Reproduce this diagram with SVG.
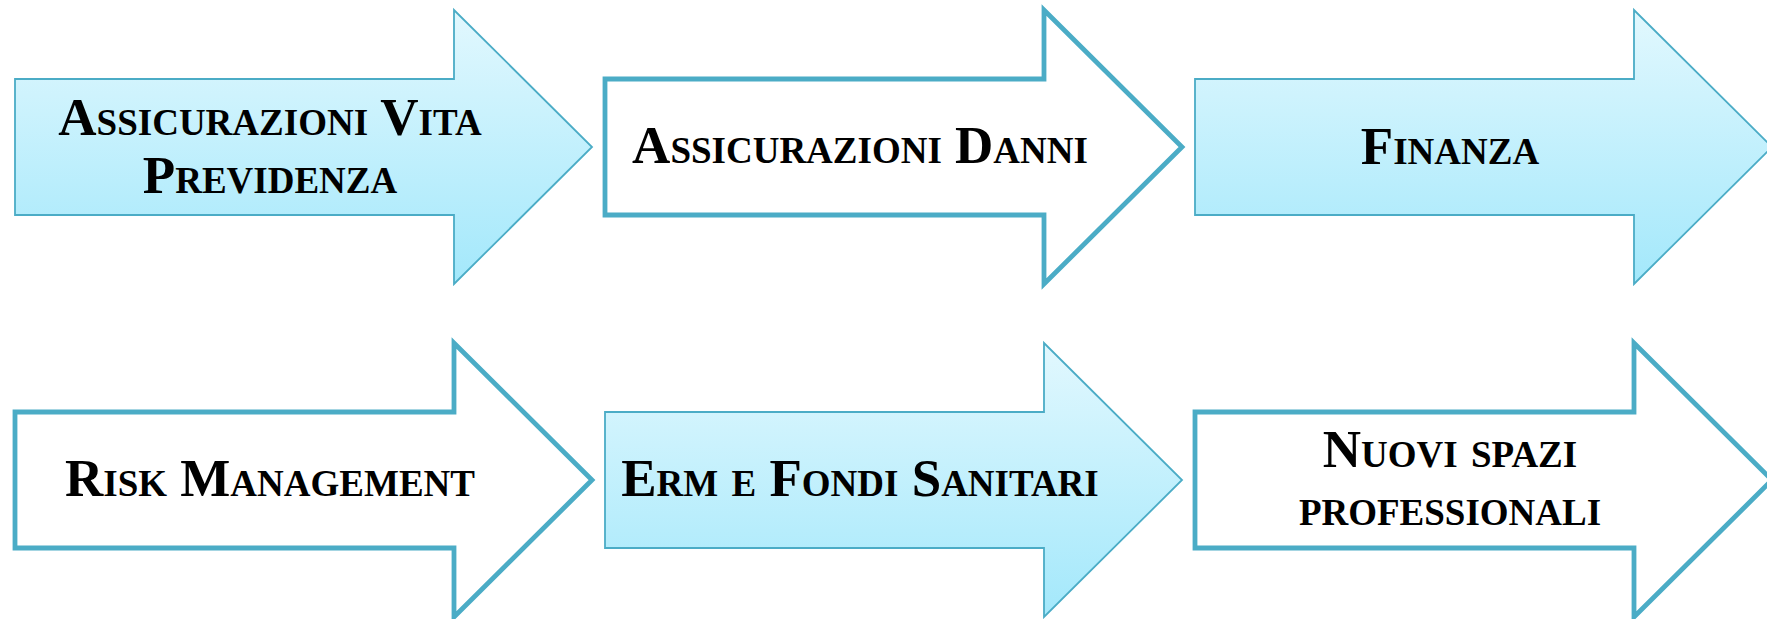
<svg xmlns="http://www.w3.org/2000/svg" width="1767" height="619" viewBox="0 0 1767 619">
<defs>
<linearGradient id="g" x1="0" y1="0" x2="0" y2="1">
<stop offset="0" stop-color="#e2f8fe"/>
<stop offset="1" stop-color="#a3e8fb"/>
</linearGradient>
<path id="arrow" d="M0,-68 H439 V-137 L577,0 L439,137 V68 H0 Z"/>
</defs>
<style>
.fill{fill:url(#g);stroke:#4bacc6;stroke-width:1.8}
.line{fill:#ffffff;stroke:#4bacc6;stroke-width:4.8}
text{font-family:"Liberation Serif","Times New Roman",serif;font-weight:bold;font-variant:small-caps;font-size:53px;fill:#000;text-anchor:middle}
</style>
<rect width="1767" height="619" fill="#ffffff"/>
<g id="node-vita" transform="translate(15,147)">
<use href="#arrow" class="fill"/>
<text x="255" y="-12">Assicurazioni Vita</text>
<text x="255" y="46">Previdenza</text>
</g>
<g id="node-danni" transform="translate(605,147)">
<use href="#arrow" class="line"/>
<text x="255" y="16">Assicurazioni Danni</text>
</g>
<g id="node-finanza" transform="translate(1195,147)">
<use href="#arrow" class="fill"/>
<text x="255" y="17">Finanza</text>
</g>
<g id="node-risk" transform="translate(15,480)">
<use href="#arrow" class="line"/>
<text x="255" y="16">Risk Management</text>
</g>
<g id="node-erm" transform="translate(605,480)">
<use href="#arrow" class="fill"/>
<text x="255" y="16">Erm e Fondi Sanitari</text>
</g>
<g id="node-nuovi" transform="translate(1195,480)">
<use href="#arrow" class="line"/>
<text x="255" y="-13">Nuovi spazi</text>
<text x="255" y="45">professionali</text>
</g>
<g id="connectors"/>
</svg>
